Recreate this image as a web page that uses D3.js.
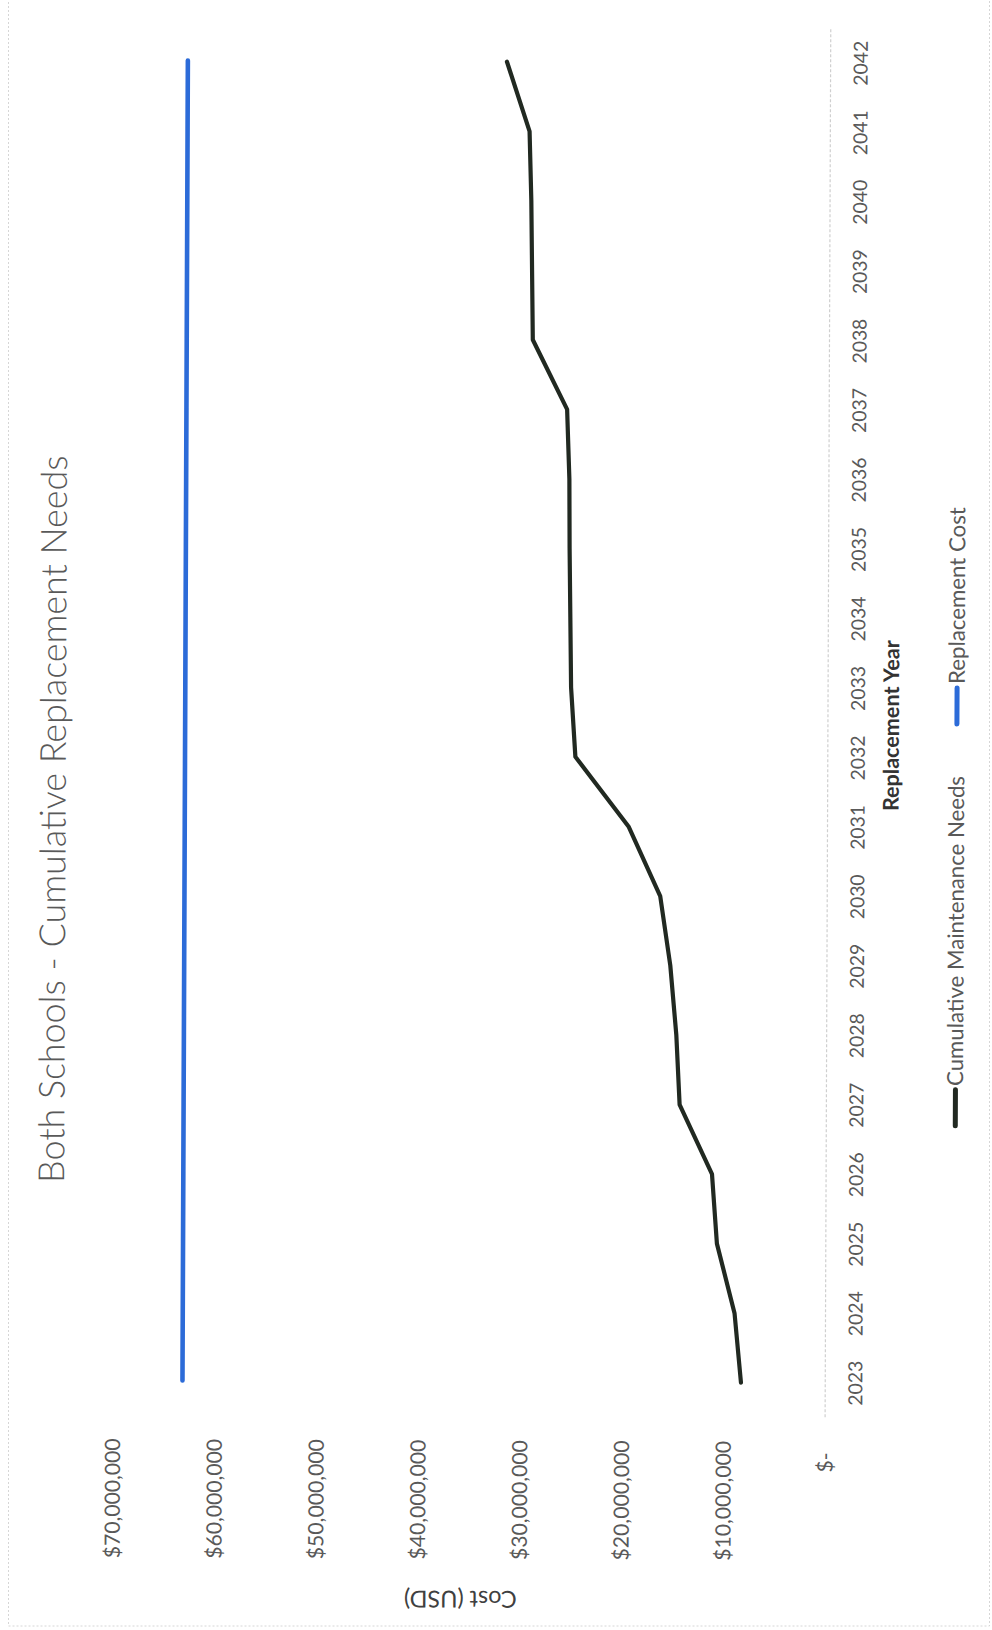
<!DOCTYPE html>
<html>
<head>
<meta charset="utf-8">
<script src="https://cdn.jsdelivr.net/npm/d3@7"></script>
<style>
  html, body { margin: 0; padding: 0; background: #ffffff; }
  svg { display: block; font-family: Lato, "Open Sans", sans-serif; }
</style>
</head>
<body>
<svg id="chart" width="992" height="1630"></svg>
<script>
// ---- data ----
const years = ["2023", "2024", "2025", "2026", "2027", "2028", "2029", "2030", "2031", "2032",
               "2033", "2034", "2035", "2036", "2037", "2038", "2039", "2040", "2041", "2042"];
const maintenanceNeeds = [8230000, 8890000, 10650000, 11160000, 14370000, 14720000, 15340000, 16360000, 19500000, 24750000,
                          25200000, 25300000, 25400000, 25450000, 25700000, 29100000, 29200000, 29300000, 29500000, 31750000];
const replacementCost = [63100000, 63100000, 63100000, 63100000, 63100000, 63100000, 63100000, 63100000, 63100000, 63100000,
                         63100000, 63100000, 63100000, 63100000, 63100000, 63100000, 63100000, 63100000, 63100000, 63100000];
const costTicks = [0, 10000000, 20000000, 30000000, 40000000, 50000000, 60000000, 70000000];
const seriesNames = ["Cumulative Maintenance Needs", "Replacement Cost"];
const seriesColors = ["#212921", "#2c6bd8"];
const chartTitle = "Both Schools - Cumulative Replacement Needs";
const xTitle = "Replacement Year";
const yTitle = "Cost (USD)";

// ---- layout ----
const W = 992, H = 1630;
const svg = d3.select("#chart");

// scale a text's font size so it spans the given length
function fitFont(sel, target) {
  const fs = parseFloat(sel.attr("font-size"));
  const len = sel.node().getComputedTextLength();
  const nf = fs * target / len;
  sel.attr("font-size", nf);
  return nf;
}

// chart-area border
svg.append("rect")
  .attr("x", 8.5).attr("y", -2).attr("width", 981).attr("height", 1628)
  .attr("fill", "#ffffff").attr("stroke", "#d6d6d6").attr("stroke-dasharray", "2,2");

// page is slightly tilted, then the landscape chart is turned a quarter-turn counter-clockwise
const tilt = svg.append("g").attr("transform", "rotate(0.234, 496, 1440)");
const g = tilt.append("g").attr("transform", `translate(0,${H}) rotate(-90)`);

const x = d3.scaleBand().domain(years).range([213.6, 1603]);
const xc = d => x(d) + x.bandwidth() / 2;
const y = d3.scaleLinear().domain([0, 70000000]).range([824.5, 112]);

// category axis
const xAxisG = g.append("g")
  .attr("transform", `translate(0,${y(0)})`)
  .call(d3.axisBottom(x).tickSizeInner(0).tickSizeOuter(0));
xAxisG.select(".domain").attr("stroke", "#cfcfcf").attr("stroke-width", 1.2).attr("stroke-dasharray", "3,2");
const yearLabels = xAxisG.selectAll(".tick text")
  .attr("y", 37.5).attr("dy", 0)
  .attr("fill", "#595959").attr("font-family", "Lato, sans-serif").attr("font-size", 20);
const yearFs = fitFont(xAxisG.select(".tick text"), 45);
yearLabels.attr("font-size", yearFs);

// value axis
const fmtMoney = v => v === 0 ? "$-" : "$" + d3.format(",")(v);
const yAxisG = g.append("g")
  .attr("transform", "translate(199,0)")
  .call(d3.axisLeft(y).tickValues(costTicks).tickFormat(fmtMoney).tickSize(0).tickPadding(9));
yAxisG.select(".domain").remove();
const costLabels = yAxisG.selectAll(".tick text")
  .attr("fill", "#595959").attr("font-family", "Lato, sans-serif").attr("font-size", 20)
  .attr("dy", "0.36em")
  .attr("dx", d => d === 0 ? -11 : 0);
const costFs = fitFont(yAxisG.selectAll(".tick text").filter(d => d === 70000000), 120);
costLabels.attr("font-size", costFs);

// series lines
const line = d3.line()
  .x((d, i) => xc(years[i]))
  .y(d => y(d));

g.append("path")
  .datum(replacementCost)
  .attr("d", line)
  .attr("fill", "none").attr("stroke", seriesColors[1]).attr("stroke-width", 4.6)
  .attr("stroke-linecap", "round").attr("stroke-linejoin", "round");

g.append("path")
  .datum(maintenanceNeeds)
  .attr("d", line)
  .attr("fill", "none").attr("stroke", seriesColors[0]).attr("stroke-width", 4.2)
  .attr("stroke-linecap", "round").attr("stroke-linejoin", "round");

// chart title
const titleText = g.append("text")
  .attr("x", 809).attr("y", 63)
  .attr("text-anchor", "middle")
  .attr("font-family", "Lato, sans-serif").attr("font-weight", 300)
  .attr("font-size", 30).attr("fill", "#595959")
  .text(chartTitle);
fitFont(titleText, 728);

// axis titles
const xTitleText = g.append("text")
  .attr("x", 906).attr("y", 896)
  .attr("text-anchor", "middle")
  .attr("font-family", "Lato, sans-serif").attr("font-weight", 700)
  .attr("font-size", 20).attr("fill", "#333333")
  .text(xTitle);
fitFont(xTitleText, 171);

const yTitleText = g.append("text")
  .attr("transform", "translate(39,461) rotate(-90)")
  .attr("text-anchor", "middle")
  .attr("font-family", "Lato, sans-serif")
  .attr("font-size", 18).attr("fill", "#404040")
  .text(yTitle);
fitFont(yTitleText, 113);

// legend
const legend = g.append("g").attr("transform", "translate(506,954)");
let cursor = 0;
seriesNames.forEach((name, i) => {
  const item = legend.append("g").attr("transform", `translate(${cursor},0)`);
  item.append("line")
    .attr("x1", 0).attr("x2", 36).attr("y1", 0).attr("y2", 0)
    .attr("stroke", seriesColors[i]).attr("stroke-width", 5).attr("stroke-linecap", "round");
  const t = item.append("text")
    .attr("x", 40).attr("y", 0).attr("dy", "0.34em")
    .attr("font-family", "Lato, sans-serif").attr("font-size", 20).attr("fill", "#595959")
    .text(name);
  fitFont(t, i === 0 ? 310 : 177);
  cursor += 40 + t.node().getComputedTextLength() + 52;
});
</script>
</body>
</html>
